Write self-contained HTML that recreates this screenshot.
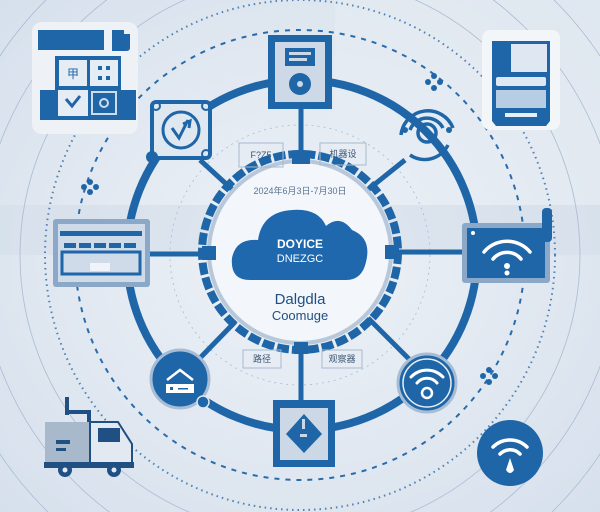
<!DOCTYPE html>
<html><head><meta charset="utf-8"><style>
html,body{margin:0;padding:0;width:600px;height:512px;overflow:hidden;background:#dfe7f0}
svg{display:block;overflow:hidden;position:absolute;left:0;top:0}
text{font-family:"Liberation Sans","Noto Sans CJK SC",sans-serif}
</style></head><body>
<svg width="600" height="512" viewBox="0 0 600 512" xmlns="http://www.w3.org/2000/svg">
<defs>
<radialGradient id="bg" cx="50%" cy="50%" r="70%">
<stop offset="0" stop-color="#eef2f7"/><stop offset="1" stop-color="#d6e0ec"/>
</radialGradient>
<clipPath id="c"><rect width="600" height="512"/></clipPath>
</defs>
<g clip-path="url(#c)">
<rect width="600" height="512" fill="url(#bg)"/>
<rect x="0" y="205" width="600" height="50" fill="#d3dde9" opacity="0.6"/>
<rect x="335" y="0" width="265" height="205" fill="#e8edf3" opacity="0.5"/>
<g fill="none" stroke="#a9bcd2" stroke-width="0.8">
<circle cx="300" cy="255" r="280"/>
<circle cx="300" cy="255" r="320"/>
<circle cx="300" cy="255" r="360"/>
<circle cx="300" cy="255" r="130" stroke-dasharray="2 4"/>
</g>
<g fill="none" stroke="#2a6cab" stroke-width="2">
<circle cx="300" cy="255" r="225" stroke-dasharray="5 6"/>
<circle cx="300" cy="255" r="255" stroke-dasharray="1.5 4" stroke="#4f80b5"/>
</g>
<g stroke="#1f66a8" stroke-width="5">
<line x1="301" y1="108" x2="301" y2="160"/>
<line x1="150" y1="254" x2="210" y2="254"/>
<line x1="392" y1="252" x2="465" y2="252"/>
<line x1="301" y1="345" x2="301" y2="400"/>
<line x1="200" y1="160" x2="235" y2="192"/>
<line x1="405" y1="160" x2="365" y2="192"/>
<line x1="200" y1="358" x2="235" y2="322"/>
<line x1="410" y1="360" x2="368" y2="318"/>
</g>
<circle cx="302" cy="255" r="175" fill="none" stroke="#1f66a8" stroke-width="8"/>
<circle cx="300" cy="252" r="98" fill="none" stroke="#1f66a8" stroke-width="8" stroke-dasharray="12 3"/>
<circle cx="300" cy="252" r="91" fill="#f3f6fa" stroke="#b8c8db" stroke-width="4"/>
<rect x="292" y="152" width="18" height="12" fill="#1f66a8"/>
<rect x="202" y="246" width="14" height="14" fill="#1f66a8"/>
<rect x="385" y="245" width="14" height="14" fill="#1f66a8"/>
<rect x="294" y="342" width="14" height="12" fill="#1f66a8"/>
<path d="M250 280 Q230 280 232 258 Q236 238 258 240 Q262 212 292 210 Q318 208 326 226 Q340 214 352 230 Q372 238 366 262 Q362 280 346 280 Z" fill="#1f68ad"/>
<text x="300" y="248" font-size="12" fill="#fff" text-anchor="middle" font-weight="bold">DOYICE</text>
<text x="300" y="262" font-size="11" fill="#fff" text-anchor="middle">DNEZGC</text>
<text x="300" y="194" font-size="9" fill="#5a7494" text-anchor="middle">2024年6月3日-7月30日</text>
<text x="300" y="304" font-size="15" fill="#1f4f83" text-anchor="middle">Dalgdla</text>
<text x="300" y="320" font-size="13" fill="#1f4f83" text-anchor="middle">Coomuge</text>
<g font-size="9" fill="#3b5775" text-anchor="middle">
<rect x="239" y="143" width="44" height="24" fill="none" stroke="#a9b9cc"/>
<text x="261" y="158">F?Z5</text>
<rect x="320" y="143" width="46" height="22" fill="none" stroke="#a9b9cc"/>
<text x="343" y="157">机器设</text>
<rect x="243" y="350" width="38" height="18" fill="none" stroke="#a9b9cc"/>
<text x="262" y="362">路径</text>
<rect x="322" y="350" width="40" height="18" fill="none" stroke="#a9b9cc"/>
<text x="342" y="362">观察器</text>
</g>
<rect x="268" y="35" width="64" height="74" fill="#1f66a8"/>
<rect x="275" y="42" width="50" height="60" fill="#cdd9e6"/>
<rect x="285" y="48" width="30" height="18" fill="#1f66a8"/><rect x="289" y="52" width="22" height="3" fill="#cdd9e6"/><rect x="289" y="58" width="18" height="3" fill="#cdd9e6"/>
<circle cx="300" cy="84" r="11" fill="#1f66a8"/><circle cx="300" cy="84" r="3" fill="#cdd9e6"/>
<rect x="152" y="102" width="58" height="56" rx="4" fill="#dfe7f0" stroke="#1f66a8" stroke-width="4"/>
<circle cx="181" cy="130" r="18" fill="none" stroke="#1f66a8" stroke-width="3"/>
<path d="M172 128 L179 138 L188 120 M183 124 L190 121 L189 128" fill="none" stroke="#1f66a8" stroke-width="3"/>
<circle cx="156" cy="106" r="4" fill="none" stroke="#1f66a8" stroke-width="2"/><circle cx="206" cy="106" r="4" fill="none" stroke="#1f66a8" stroke-width="2"/>
<circle cx="206" cy="154" r="4" fill="none" stroke="#1f66a8" stroke-width="2"/>
<circle cx="152" cy="157" r="6" fill="#1f66a8"/>
<rect x="32" y="22" width="106" height="112" rx="10" fill="#eef2f6"/>
<rect x="38" y="30" width="68" height="20" fill="#1f66a8"/><rect x="104" y="30" width="3" height="20" fill="#eef2f6"/>
<path d="M112 30 h12 v4 h6 v14 q0 3 -4 3 h-14 z" fill="#1f66a8"/>
<rect x="55" y="56" width="66" height="60" fill="#1f66a8"/>
<rect x="40" y="90" width="96" height="30" fill="#1f66a8"/>
<rect x="59" y="60" width="28" height="26" fill="#e6ecf3"/><rect x="90" y="60" width="28" height="26" fill="#e6ecf3"/>
<rect x="58" y="90" width="30" height="26" fill="#e6ecf3"/><rect x="92" y="92" width="24" height="22" fill="none" stroke="#cfdbe8" stroke-width="2"/>
<circle cx="104" cy="103" r="4" fill="none" stroke="#cfdbe8" stroke-width="2"/>
<path d="M66 99 l6 7 l8 -10" fill="none" stroke="#1f66a8" stroke-width="3"/>
<text x="73" y="78" font-size="12" fill="#1f66a8" text-anchor="middle">甲</text>
<g fill="#1f66a8"><rect x="98" y="66" width="4" height="4"/><rect x="106" y="66" width="4" height="4"/><rect x="98" y="76" width="4" height="4"/><rect x="106" y="76" width="4" height="4"/></g>
<rect x="482" y="30" width="78" height="100" rx="8" fill="#f3f6f9"/>
<path d="M492 41 h58 v80 l-4 5 h-50 l-4 -5 z" fill="#1f66a8"/>
<rect x="511" y="44" width="36" height="28" fill="#dfe8f2"/>
<rect x="496" y="77" width="50" height="9" rx="2" fill="#dfe8f2"/>
<rect x="496" y="90" width="50" height="18" fill="#b7cde3"/>
<rect x="505" y="113" width="32" height="4" fill="#e6eef6"/>
<g fill="none" stroke="#1f66a8" stroke-width="3.5">
<path d="M401 135 A27 27 0 0 1 453 128"/>
<path d="M410 130 A18 18 0 0 1 443 128"/>
<circle cx="427" cy="133" r="9"/>
<path d="M448 145 A26 26 0 0 1 410 155"/>
</g>
<circle cx="427" cy="133" r="3" fill="#1f66a8"/>
<circle cx="405" cy="130" r="3" fill="#1f66a8"/><circle cx="449" cy="130" r="3" fill="#1f66a8"/>
<rect x="53" y="219" width="97" height="68" rx="3" fill="#8ba8c8"/>
<rect x="58" y="224" width="87" height="58" fill="#cfdbe8"/>
<rect x="60" y="231" width="82" height="5" fill="#1f66a8"/>
<g fill="#1f66a8"><rect x="64" y="243" width="12" height="5"/><rect x="79" y="243" width="12" height="5"/><rect x="94" y="243" width="12" height="5"/><rect x="109" y="243" width="12" height="5"/><rect x="124" y="243" width="12" height="5"/></g>
<rect x="62" y="252" width="78" height="22" fill="none" stroke="#1f66a8" stroke-width="3"/>
<rect x="90" y="263" width="20" height="8" fill="#f0f4f8"/>
<rect x="462" y="223" width="88" height="60" rx="3" fill="#8ba8c8"/>
<rect x="467" y="228" width="78" height="50" fill="#1f66a8"/>
<rect x="542" y="208" width="10" height="34" rx="4" fill="#1f66a8"/>
<circle cx="473" cy="233" r="2" fill="#fff"/>
<g fill="none" stroke="#fff" stroke-width="3.5" stroke-linecap="round">
<path d="M484 252 A30 30 0 0 1 530 252"/><path d="M493 259 A18 18 0 0 1 521 259"/>
</g>
<circle cx="507" cy="266" r="3" fill="#fff"/><circle cx="507" cy="273" r="2.5" fill="#fff"/>
<circle cx="180" cy="379" r="29" fill="#1f66a8" stroke="#a7bdd6" stroke-width="3"/>
<path d="M167 380 L180 370 L193 380" fill="none" stroke="#fff" stroke-width="2.5"/>
<rect x="166" y="384" width="28" height="9" fill="#fff"/><rect x="170" y="387" width="3" height="3" fill="#1f66a8"/><rect x="178" y="388" width="10" height="1.5" fill="#1f66a8"/>
<circle cx="203" cy="402" r="6" fill="#1f66a8" stroke="#dfe7f0" stroke-width="1.5"/>
<rect x="273" y="400" width="62" height="67" fill="#1f66a8"/>
<rect x="280" y="408" width="48" height="52" fill="#ccd8e5"/>
<path d="M304 414 L322 434 L304 453 L286 434 Z" fill="#1f66a8"/>
<rect x="302" y="419" width="3" height="10" fill="#ccd8e5"/><rect x="300" y="434" width="7" height="3" fill="#ccd8e5"/>
<circle cx="427" cy="383" r="29" fill="#1f66a8" stroke="#a7bdd6" stroke-width="3"/>
<circle cx="427" cy="383" r="24" fill="none" stroke="#e8eef5" stroke-width="1.5"/>
<g fill="none" stroke="#fff" stroke-width="3" stroke-linecap="round">
<path d="M411 377 A22 22 0 0 1 443 377"/><path d="M417 383 A13 13 0 0 1 437 383"/>
</g>
<circle cx="427" cy="393" r="5" fill="none" stroke="#fff" stroke-width="2.5"/>
<circle cx="510" cy="453" r="33" fill="#1f66a8"/>
<g fill="none" stroke="#fff" stroke-width="3.5" stroke-linecap="round">
<path d="M493 447 A24 24 0 0 1 527 447"/><path d="M500 454 A14 14 0 0 1 520 454"/>
</g>
<path d="M510 458 L506 470 Q510 476 514 470 Z" fill="#fff"/>
<rect x="65" y="397" width="4" height="18" fill="#1f4f83"/>
<rect x="65" y="410" width="25" height="4" fill="#1f4f83"/><rect x="87" y="410" width="4" height="12" fill="#1f4f83"/>
<rect x="45" y="422" width="45" height="42" fill="#a9b9cc"/>
<rect x="56" y="440" width="14" height="4" fill="#1f4f83"/><rect x="56" y="448" width="10" height="3" fill="#1f4f83"/>
<path d="M90 422 h28 l14 22 v20 h-42 z" fill="#e3e9f0" stroke="#1f4f83" stroke-width="2"/>
<rect x="98" y="428" width="22" height="14" fill="#1f4f83"/>
<rect x="44" y="462" width="90" height="6" fill="#1f4f83"/>
<circle cx="65" cy="470" r="7" fill="#1f4f83"/><circle cx="65" cy="470" r="2.5" fill="#e3e9f0"/>
<circle cx="114" cy="470" r="7" fill="#1f4f83"/><circle cx="114" cy="470" r="2.5" fill="#e3e9f0"/>
<g fill="#1f66a8">
<circle cx="90" cy="182" r="3"/><circle cx="96" cy="187" r="3"/><circle cx="90" cy="192" r="3"/><circle cx="84" cy="187" r="3"/>
<circle cx="434" cy="76" r="3"/><circle cx="440" cy="82" r="3"/><circle cx="434" cy="88" r="3"/><circle cx="428" cy="82" r="3"/>
<circle cx="489" cy="370" r="3"/><circle cx="495" cy="376" r="3"/><circle cx="489" cy="382" r="3"/><circle cx="483" cy="376" r="3"/>
</g>
</g>
</svg>
</body></html>
